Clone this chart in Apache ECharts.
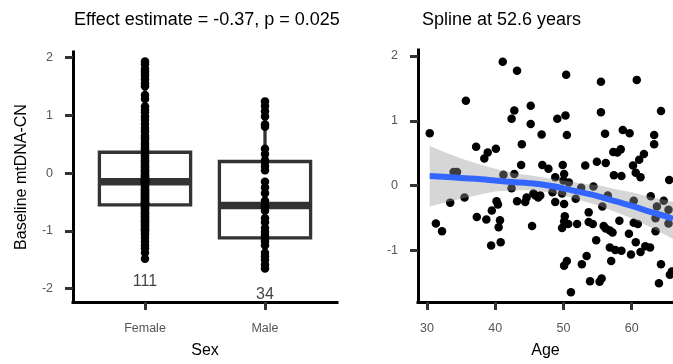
<!DOCTYPE html>
<html>
<head>
<meta charset="utf-8">
<script src="https://cdn.jsdelivr.net/npm/echarts@6/dist/echarts.min.js"></script>
<style>
html,body{margin:0;padding:0;background:#fff;}
#chart{width:673px;height:364px;}
</style>
</head>
<body>
<div id="chart"></div>
<script>
// ---------- data ----------
const sexCategories = ["Female", "Male"];
const femaleValues = [1.93,1.88,1.80,1.76,1.72,1.68,1.62,1.55,1.50,1.35,1.28,1.15,1.10,1.05,0.98,0.92,0.85,0.78,0.72,0.65,0.62,0.58,0.52,0.49,0.45,0.42,0.40,0.37,
  0.34,0.31,0.28,0.25,0.22,0.20,0.17,0.14,0.12,0.10,0.07,0.05,0.03,0.01,-0.02,-0.04,-0.06,-0.08,-0.09,-0.10,-0.11,-0.12,-0.13,-0.13,-0.14,-0.14,-0.15,
  -0.15,
  -0.16,-0.17,-0.18,-0.20,-0.22,-0.24,-0.26,-0.28,-0.30,-0.31,-0.33,-0.35,-0.37,-0.38,-0.40,-0.42,-0.43,-0.45,-0.46,-0.48,-0.49,-0.50,-0.51,-0.52,-0.53,-0.54,-0.55,
  -0.57,-0.59,-0.61,-0.63,-0.66,-0.68,-0.70,-0.72,-0.75,-0.77,-0.80,-0.82,-0.84,-0.86,-0.88,-0.90,-0.92,-0.95,-0.97,-0.99,-1.02,-1.06,-1.12,-1.19,-1.25,-1.30,-1.38,-1.48];
const maleValues = [1.24,1.16,1.07,0.98,0.84,0.80,0.42,0.33,0.22,0.19,0.12,0.05,-0.15,-0.25,-0.35,-0.48,-0.53,-0.56,-0.58,-0.60,-0.65,-0.78,-0.85,-0.95,-1.02,-1.08,-1.13,-1.18,-1.25,-1.38,-1.44,-1.50,-1.58,-1.65];
// box statistics per category: [lower whisker, Q1, median, Q3, upper whisker]
const femaleBox = [-1.48, -0.55, -0.15, 0.36, 1.73];
const maleBox = [-1.65, -1.12, -0.56, 0.20, 1.24];
const nCounts = [111, 34];
const nLabelY = [-1.87, -2.10];
const sexTicks = [-2, -1, 0, 1, 2];

const ages = [30.4,31.3,32.2,33.4,33.9,34.4,35.5,35.7,37.2,37.3,38.4,38.9,38.7,40.1,39.4,39.5,40.2,40.4,40.7,40.5,40.8,41.1,41.2,42.4,42.8,42.8,42.4,43.2,43.9,43.8,
  43.2,44.4,44.6,45.2,45.2,45.4,45.6,45.9,46.3,46.6,46.8,46.9,47.8,48.4,48.8,48.8,49.1,49.8,49.9,50.1,50.1,50.4,50.3,50.5,50.2,50.1,49.8,50.7,50.8,50.0,
  50.1,50.5,51.1,52.0,51.8,52.6,53.2,53.7,53.7,52.7,53.4,53.9,54.4,54.3,54.9,55.3,54.8,55.5,55.5,55.7,55.9,55.6,56.1,56.2,56.5,56.2,56.8,56.8,57.0,57.2,
  57.6,57.3,57.4,57.9,58.2,58.5,58.4,58.5,58.7,59.7,59.6,59.9,60.3,60.3,60.2,60.75,60.6,60.9,60.6,61.1,61.3,61.3,61.8,62.0,62.7,62.8,63.3,63.3,63.5,63.7,
  63.5,64.3,64.3,64.0,64.7,65.5,65.4,65.4,65.6,65.9,34.1];
const mtdna = [0.81,-0.58,-0.70,-0.26,0.21,0.21,-0.18,1.31,0.60,-0.48,0.42,0.51,-0.52,0.57,-0.92,-0.38,-0.24,-0.29,-0.53,-0.64,-0.87,1.91,0.17,1.03,1.16,0.18,-0.04,1.77,0.64,0.32,
  -0.24,-0.25,-0.18,1.23,0.95,-0.62,-0.12,-0.15,-0.18,-0.15,0.79,0.32,0.26,-0.10,0.13,-0.25,1.03,-0.12,0.32,0.18,-0.28,1.71,1.08,0.78,-0.47,-0.55,-0.65,-0.59,0.05,0.08,
  -1.23,-1.16,-1.64,-0.59,-0.20,-0.03,0.31,-0.41,-0.56,-1.21,-1.08,-1.47,-0.01,-0.59,0.37,-1.48,-0.84,1.60,1.13,-0.32,-0.62,-1.43,0.80,0.35,-0.15,-0.66,-0.69,-0.95,-1.16,-0.72,
  -0.99,0.52,0.16,0.51,-0.54,0.15,0.56,-1.00,0.86,0.81,-0.74,-1.06,-0.23,-0.57,0.31,1.63,0.20,-0.59,-0.87,0.40,0.13,-1.02,0.49,-0.93,-0.95,-0.16,0.78,0.64,-0.70,-0.32,
  -0.50,1.15,-1.21,-1.50,-0.23,0.09,-0.37,-0.58,-1.37,-1.32,0.19];
const fitAges = [30.4, 33, 35, 38, 40, 43, 45, 48, 50, 53, 55, 58, 60, 63, 65, 66.06];
const fitValues = [0.15, 0.135, 0.12, 0.10, 0.08, 0.055, 0.04, 0.0, -0.04, -0.11, -0.16, -0.25, -0.31, -0.41, -0.47, -0.51];
const fitLower = [-0.32, -0.25, -0.20, -0.13, -0.09, -0.07, -0.07, -0.10, -0.15, -0.24, -0.30, -0.42, -0.50, -0.65, -0.76, -0.82];
const fitUpper = [0.61, 0.50, 0.42, 0.32, 0.26, 0.19, 0.16, 0.11, 0.08, 0.03, 0.01, -0.06, -0.10, -0.18, -0.22, -0.25];
const ageTicks = [30, 40, 50, 60];
const ageYTicks = [-1, 0, 1, 2];

// ---------- chart ----------
const FONT = "'Liberation Sans', Arial, sans-serif";
const chart = echarts.init(document.getElementById('chart'), null, {renderer: 'canvas'});

const axisLine = {show: true, onZero: false, lineStyle: {color: '#000', width: 3, cap: 'square'}};
const labelStyle = {color: '#555', fontSize: 12.5, fontFamily: FONT};
const tickStyle = {lineStyle: {color: '#333', width: 3}, length: 8};

const boxRender = function (params, api) {
  const x = api.value(0);
  const pMin = api.coord([x, api.value(1)]);
  const pQ1 = api.coord([x, api.value(2)]);
  const pMed = api.coord([x, api.value(3)]);
  const pQ3 = api.coord([x, api.value(4)]);
  const pMax = api.coord([x, api.value(5)]);
  const w = api.size([0.76, 0])[0];
  const st = {stroke: '#333', lineWidth: 3.3, fill: null};
  return {
    type: 'group',
    children: [
      {type: 'line', shape: {x1: pMax[0], y1: pMax[1], x2: pQ3[0], y2: pQ3[1]}, style: st},
      {type: 'line', shape: {x1: pMin[0], y1: pMin[1], x2: pQ1[0], y2: pQ1[1]}, style: st},
      {type: 'rect', shape: {x: pQ3[0] - w / 2, y: pQ3[1], width: w, height: pQ1[1] - pQ3[1]},
        style: {stroke: '#333', lineWidth: 3.3, fill: '#fff'}},
      {type: 'line', shape: {x1: pMed[0] - w / 2, y1: pMed[1], x2: pMed[0] + w / 2, y2: pMed[1]},
        style: {stroke: '#333', lineWidth: 7.5}}
    ]
  };
};

const ribbonRender = function (params, api) {
  if (params.dataIndex !== 0) return null;
  const pts = [];
  for (let i = 0; i < fitAges.length; i++) pts.push(api.coord([fitAges[i], fitUpper[i]]));
  for (let i = fitAges.length - 1; i >= 0; i--) pts.push(api.coord([fitAges[i], fitLower[i]]));
  return {
    type: 'polygon',
    shape: {points: pts},
    style: {fill: 'rgba(153,153,153,0.4)', stroke: null}
  };
};

const option = {
  animation: false,
  backgroundColor: '#fff',
  title: [
    {text: 'Effect estimate = -0.37, p = 0.025', left: 69, top: 6,
      textStyle: {fontFamily: FONT, fontSize: 18, fontWeight: 'normal', color: '#000'}},
    {text: 'Spline at 52.6 years', left: 417, top: 6,
      textStyle: {fontFamily: FONT, fontSize: 18, fontWeight: 'normal', color: '#000'}}
  ],
  grid: [
    {left: 73, top: 52, width: 264, height: 252, containLabel: false},
    {left: 418, top: 50, width: 255, height: 254, containLabel: false}
  ],
  xAxis: [
    {gridIndex: 0, type: 'value', min: 0.4, max: 2.6,
      name: 'Sex', nameLocation: 'middle', nameGap: 41,
      nameTextStyle: {fontFamily: FONT, fontSize: 16, color: '#000'},
      axisLine: axisLine, splitLine: {show: false},
      axisTick: Object.assign({show: true, customValues: [1, 2]}, tickStyle),
      axisLabel: Object.assign({customValues: [1, 2], margin: 20,
        formatter: function (v) { return sexCategories[Math.round(v) - 1]; }}, labelStyle)},
    {gridIndex: 1, type: 'value', min: 28.68, max: 66.06,
      name: 'Age', nameLocation: 'middle', nameGap: 41,
      nameTextStyle: {fontFamily: FONT, fontSize: 16, color: '#000'},
      axisLine: axisLine, splitLine: {show: false},
      axisTick: Object.assign({show: true, customValues: ageTicks}, tickStyle),
      axisLabel: Object.assign({customValues: ageTicks, margin: 20}, labelStyle)}
  ],
  yAxis: [
    {gridIndex: 0, type: 'value', min: -2.23, max: 2.094,
      name: 'Baseline mtDNA-CN', nameLocation: 'middle', nameGap: 43,
      nameTextStyle: {fontFamily: FONT, fontSize: 16, color: '#000'},
      axisLine: axisLine, splitLine: {show: false},
      axisTick: Object.assign({show: true, customValues: sexTicks}, tickStyle),
      axisLabel: Object.assign({customValues: sexTicks, margin: 20}, labelStyle)},
    {gridIndex: 1, type: 'value', min: -1.79, max: 2.09,
      axisLine: axisLine, splitLine: {show: false},
      axisTick: Object.assign({show: true, customValues: ageYTicks}, tickStyle),
      axisLabel: Object.assign({customValues: ageYTicks, margin: 20}, labelStyle)}
  ],
  series: [
    {type: 'custom', xAxisIndex: 0, yAxisIndex: 0, z: 2,
      renderItem: boxRender,
      data: [[1].concat(femaleBox), [2].concat(maleBox)]},
    {type: 'scatter', xAxisIndex: 0, yAxisIndex: 0, z: 3, symbolSize: 8.5,
      itemStyle: {color: '#000', opacity: 1},
      data: femaleValues.map(v => [1, v]).concat(maleValues.map(v => [2, v]))},
    {type: 'scatter', xAxisIndex: 0, yAxisIndex: 0, z: 4, symbolSize: 0,
      data: nCounts.map((n, i) => [i + 1, nLabelY[i], n]),
      label: {show: true, position: 'inside', formatter: p => String(p.value[2]),
        fontFamily: FONT, fontSize: 16, color: '#111'}},
    {type: 'scatter', xAxisIndex: 1, yAxisIndex: 1, z: 2, symbolSize: 8.5,
      itemStyle: {color: '#000', opacity: 1},
      data: ages.map((a, i) => [a, mtdna[i]])},
    {type: 'custom', xAxisIndex: 1, yAxisIndex: 1, z: 3,
      renderItem: ribbonRender,
      data: fitAges.map((a, i) => [a, fitValues[i]])},
    {type: 'line', xAxisIndex: 1, yAxisIndex: 1, z: 4, smooth: true,
      showSymbol: false, symbol: 'none',
      lineStyle: {color: '#3366FF', width: 6},
      data: fitAges.map((a, i) => [a, fitValues[i]])}
  ]
};
chart.setOption(option);
</script>
</body>
</html>
